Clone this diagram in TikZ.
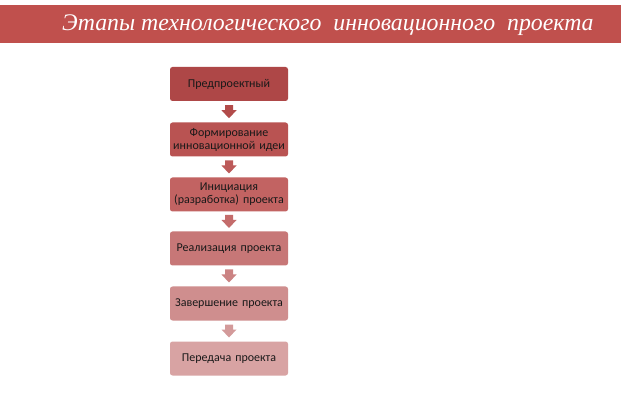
\documentclass[tikz,border=0pt]{standalone}
\usepackage{fontspec}
\setmainfont{Carlito}
\newfontfamily\titlefont{Liberation Serif}
\usetikzlibrary{calc}
\definecolor{bannerc}{HTML}{C0504D}
\definecolor{ca}{HTML}{AE4747}
\definecolor{cb}{HTML}{B95352}
\definecolor{cc}{HTML}{C26362}
\definecolor{cd}{HTML}{C77777}
\definecolor{ce}{HTML}{CF8E8E}
\definecolor{cf}{HTML}{D8A3A3}
\definecolor{aa}{HTML}{B24B4A}
\definecolor{ab}{HTML}{BC5A59}
\definecolor{ac}{HTML}{C46C6B}
\definecolor{ad}{HTML}{CB8383}
\definecolor{ae}{HTML}{D39A9A}
\tikzset{
  stagebox/.style={draw=none, rounded corners=2.5pt, minimum width=118pt, minimum height=34pt,
    text width=116pt, align=center, inner sep=1pt, font=\fontsize{12}{13}\selectfont, text=black!90}
}
\newcommand{\blockarrow}[3]{%
  \coordinate (#1) at ($(#2.south)!0.5!(#3.north)$);
  \fill ($(#1)+(-4,6.5)$) -- ($(#1)+(4,6.5)$) -- ($(#1)+(4,1.5)$) -- ($(#1)+(7.5,1.5)$)
     -- ($(#1)+(0,-6.5)$) -- ($(#1)+(-7.5,1.5)$) -- ($(#1)+(-4,1.5)$) -- cycle;}
\begin{document}
\begin{tikzpicture}[x=1pt,y=1pt]
\useasboundingbox (0,0) rectangle (621,-403);
\fill[white] (0,0) rectangle (621,-403);
\node[fill=bannerc, minimum width=621pt, minimum height=38pt, inner sep=0pt, anchor=north west] (banner) at (0,-5) {};
\node[anchor=west, text=white, inner sep=0pt, font=\titlefont\itshape\fontsize{23.8}{26}\selectfont] (title) at (62,-25)
  {Этапы технологического\ \ инновационного\ \ проекта};
\node[stagebox, fill=ca] (s1) at (229,-84) {Предпроектный};
\node[stagebox, fill=cb] (s2) at (229,-139.5) {Формирование\\инновационной идеи};
\node[stagebox, fill=cc] (s3) at (229,-194.5) {Инициация\\(разработка) проекта};
\node[stagebox, fill=cd] (s4) at (229,-248.5) {Реализация проекта};
\node[stagebox, fill=ce] (s5) at (229,-303.5) {Завершение проекта};
\node[stagebox, fill=cf] (s6) at (229,-358.5) {Передача проекта};
\begin{scope}[fill=aa]\blockarrow{a1}{s1}{s2}\end{scope}
\begin{scope}[fill=ab]\blockarrow{a2}{s2}{s3}\end{scope}
\begin{scope}[fill=ac]\blockarrow{a3}{s3}{s4}\end{scope}
\begin{scope}[fill=ad]\blockarrow{a4}{s4}{s5}\end{scope}
\begin{scope}[fill=ae]\blockarrow{a5}{s5}{s6}\end{scope}
\end{tikzpicture}
\end{document}
